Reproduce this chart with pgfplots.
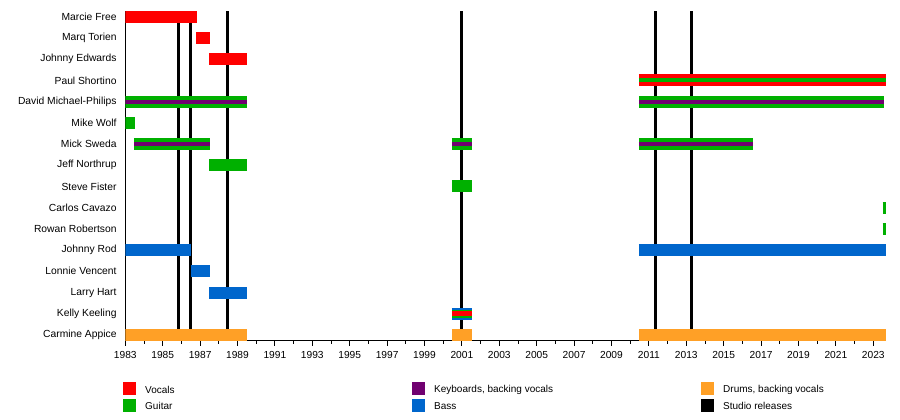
\documentclass[border=0pt]{standalone}
\usepackage{pgfplots}
\pgfplotsset{compat=1.18}
\usepackage{fontspec}
\setmainfont{Liberation Sans}
\definecolor{cvoc}{HTML}{FF0000}
\definecolor{cgtr}{HTML}{00B000}
\definecolor{ckey}{HTML}{700070}
\definecolor{cbas}{HTML}{0066CC}
\definecolor{cdrm}{HTML}{FFA026}
\newcommand{\tlbar}[5]{\addplot[draw=#1, line width=#2, forget plot] coordinates {(#3,#5) (#4,#5)};}
\newcommand{\rel}[1]{\addplot[draw=black, line width=3pt, forget plot] coordinates {(#1,-0.27) (#1,15.283)};}
\begin{document}
\begin{tikzpicture}[x=1pt,y=1pt]
\path[use as bounding box] (0,0) rectangle (900,420);
\begin{axis}[
  at={(125.3pt,79.3pt)}, anchor=south west,
  scale only axis, width=760.7pt, height=330pt,
  xmin=1983, xmax=2023.68, ymin=-0.27, ymax=15.283,
  axis x line*=bottom, axis y line*=left,
  axis line style={line width=0.8pt},
  xtick={1983,1985,...,2023}, minor xtick={1984,1986,...,2022},
  tick align=outside, major tick length=5pt, minor tick length=3pt,
  tick style={black, line width=0.8pt},
  xticklabel style={font=\fontsize{10.2}{12}\selectfont, inner sep=0pt, anchor=north, yshift=-5.5pt},
  /pgf/number format/1000 sep={}, /pgf/number format/assume math mode=true,
  ytick={0,...,15},
  yticklabels={Carmine Appice,Kelly Keeling,Larry Hart,Lonnie Vencent,Johnny Rod,Rowan Robertson,Carlos Cavazo,Steve Fister,Jeff Northrup,Mick Sweda,Mike Wolf,David Michael-Philips,Paul Shortino,Johnny Edwards,Marq Torien,Marcie Free},
  ytick style={draw=none},
  yticklabel style={font=\fontsize{10.3}{12}\selectfont, anchor=east, inner sep=0pt, xshift=-3.6pt},
  clip=true,
]
% studio releases
\rel{1985.83}\rel{1986.48}\rel{1988.44}\rel{2000.97}\rel{2011.34}\rel{2013.27}
% Marcie Free
\tlbar{cvoc}{12pt}{1983}{1986.82}{15}
% Marq Torien
\tlbar{cvoc}{12pt}{1986.8}{1987.53}{14}
% Johnny Edwards
\tlbar{cvoc}{12pt}{1987.5}{1989.5}{13}
% Paul Shortino
\tlbar{cvoc}{12pt}{2010.47}{2023.68}{12}
\tlbar{cgtr}{4pt}{2010.47}{2023.68}{12}
% David Michael-Philips
\tlbar{cgtr}{12pt}{1983}{1989.5}{11}
\tlbar{ckey}{4pt}{1983}{1989.5}{11}
\tlbar{cgtr}{12pt}{2010.47}{2023.57}{11}
\tlbar{ckey}{4pt}{2010.47}{2023.57}{11}
% Mike Wolf
\tlbar{cgtr}{12pt}{1983}{1983.52}{10}
% Mick Sweda
\tlbar{cgtr}{12pt}{1983.47}{1987.53}{9}
\tlbar{ckey}{4pt}{1983.47}{1987.53}{9}
\tlbar{cgtr}{12pt}{2000.47}{2001.54}{9}
\tlbar{ckey}{4pt}{2000.47}{2001.54}{9}
\tlbar{cgtr}{12pt}{2010.47}{2016.57}{9}
\tlbar{ckey}{4pt}{2010.47}{2016.57}{9}
% Jeff Northrup
\tlbar{cgtr}{12pt}{1987.5}{1989.5}{8}
% Steve Fister
\tlbar{cgtr}{12pt}{2000.47}{2001.54}{7}
% Carlos Cavazo
\tlbar{cgtr}{12pt}{2023.5}{2023.68}{6}
% Rowan Robertson
\tlbar{cgtr}{12pt}{2023.5}{2023.68}{5}
% Johnny Rod
\tlbar{cbas}{12pt}{1983}{1986.5}{4}
\tlbar{cbas}{12pt}{2010.47}{2023.68}{4}
% Lonnie Vencent
\tlbar{cbas}{12pt}{1986.5}{1987.53}{3}
% Larry Hart
\tlbar{cbas}{12pt}{1987.5}{1989.5}{2}
% Kelly Keeling
\tlbar{cbas}{12pt}{2000.47}{2001.54}{1}
\tlbar{cgtr}{8pt}{2000.47}{2001.54}{1}
\tlbar{cvoc}{5.3pt}{2000.47}{2001.54}{1}
% Carmine Appice
\tlbar{cdrm}{12pt}{1983}{1989.5}{0}
\tlbar{cdrm}{12pt}{2000.47}{2001.54}{0}
\tlbar{cdrm}{12pt}{2010.47}{2023.68}{0}
\end{axis}
% legend
\begin{scope}[every node/.style={font=\fontsize{10}{12}\selectfont, anchor=west, inner sep=0pt}]
\fill[cvoc] (123,25) rectangle (136,37.7); \node at (145,30.5) {Vocals};
\fill[cgtr] (123,8.3) rectangle (136,21); \node at (145,13.8) {Guitar};
\fill[ckey] (412,25) rectangle (425,37.7); \node at (434,30.5) {Keyboards, backing vocals};
\fill[cbas] (412,8.3) rectangle (425,21); \node at (434,13.8) {Bass};
\fill[cdrm] (701,25) rectangle (714,37.7); \node at (723,30.5) {Drums, backing vocals};
\fill[black] (701,8.3) rectangle (714,21); \node at (723,13.8) {Studio releases};
\end{scope}
\end{tikzpicture}
\end{document}
